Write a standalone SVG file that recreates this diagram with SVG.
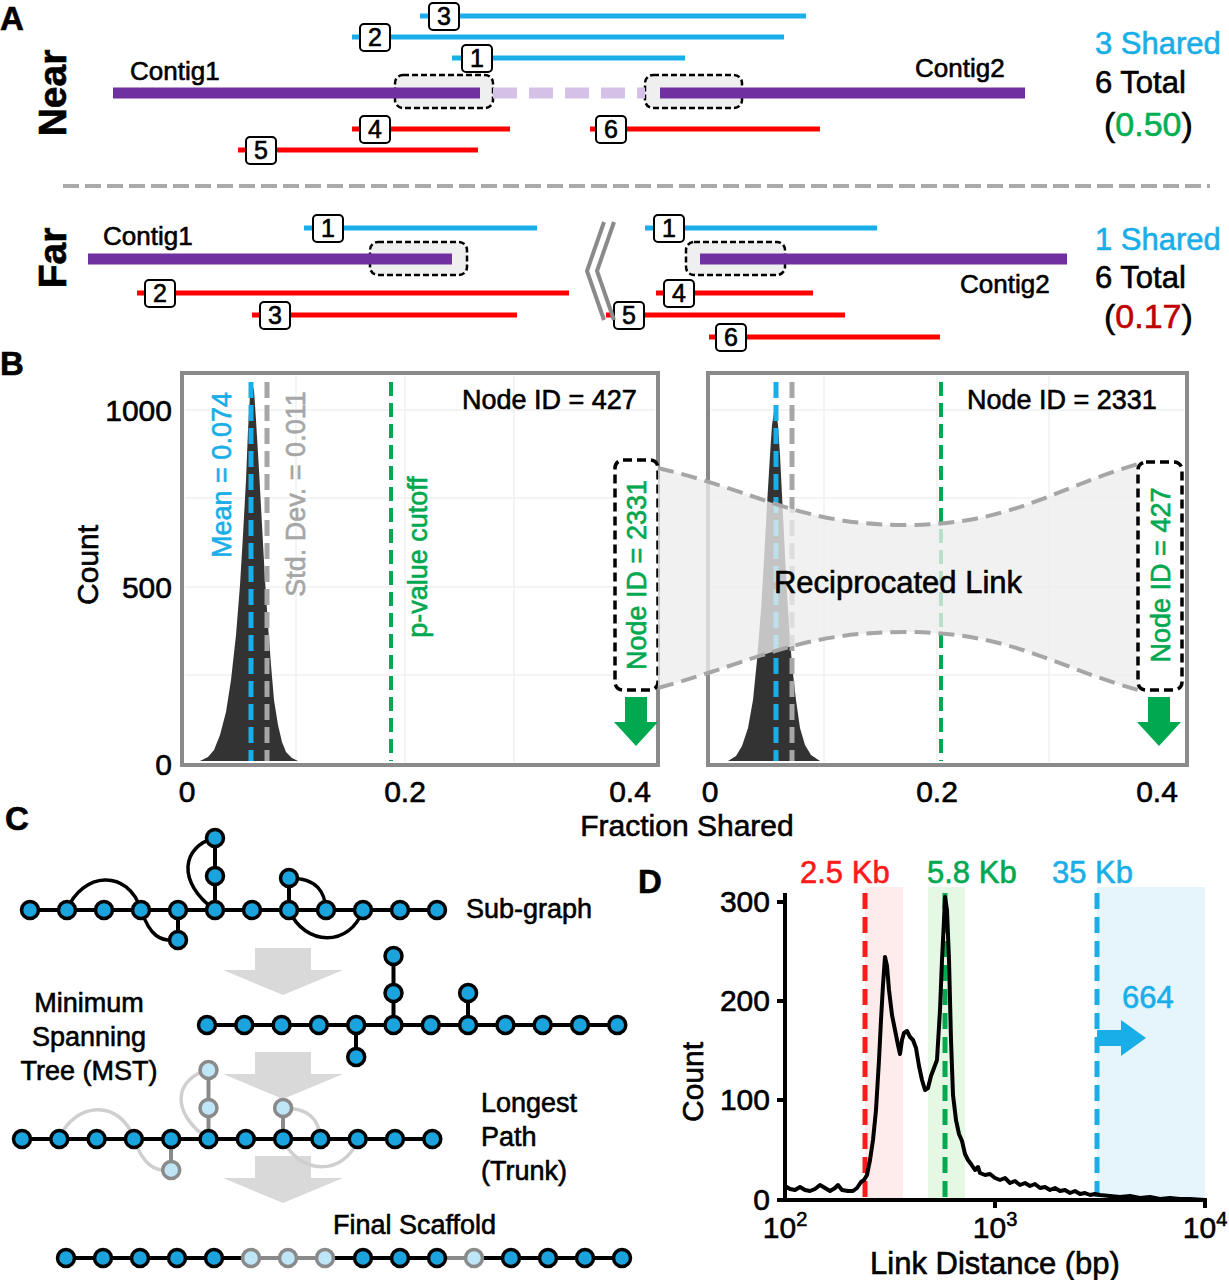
<svg xmlns="http://www.w3.org/2000/svg" width="1229" height="1280" viewBox="0 0 1229 1280">
<style>
text{font-family:"Liberation Sans",Arial,Helvetica,sans-serif;fill:#000;stroke:#000;stroke-width:0.6}
.lbl{font-weight:bold;font-size:33px}
.side{font-weight:bold;font-size:39px}
.ctg{font-size:26px}
.num{font-size:25px;text-anchor:middle}
.nbox{fill:#fff;stroke:#000;stroke-width:2}
.blue{stroke:#1aaee8;stroke-width:5}
.red{stroke:#ff0000;stroke-width:5}
.purple{stroke:#7030a0;stroke-width:11}
.hl{fill:#efefef;stroke:#000;stroke-width:2.5;stroke-dasharray:6 3}
.big{font-size:30px}
.frame{fill:#fff;stroke:#8a8a8a;stroke-width:4}
.grid{stroke:#f0f0f0;stroke-width:1.5}
.dmean{stroke:#1aaee8;stroke-width:5;stroke-dasharray:16 7}
.dsd{stroke:#a6a6a6;stroke-width:5;stroke-dasharray:16 7}
.dpv{stroke:#00a84f;stroke-width:4;stroke-dasharray:14 7}
.idbox{fill:#fff;stroke:#000;stroke-width:3.5;stroke-dasharray:9 5}
.garrow{fill:#00a84f}
.rot27{font-size:27px}
.cb{fill:#1aaee8;stroke:#1aaee8}
.cg{fill:#00a84f;stroke:#00a84f}
.cgl{fill:#00b050;stroke:#00b050}
.cgr{fill:#a6a6a6;stroke:#a6a6a6}
.cr{fill:#ff1a1a;stroke:#ff1a1a}
.cdr{fill:#c00000;stroke:#c00000}
.n{fill:#1aa3dc;stroke:#000;stroke-width:3.5}
.nl{fill:#bfe6f7;stroke:#8a8a8a;stroke-width:3.5}
.e{stroke:#000;stroke-width:4;fill:none}
.eg{stroke:#8a8a8a;stroke-width:4;fill:none}
.ec{stroke:#000;stroke-width:3.5;fill:none}
.ecg{stroke:#cfcfcf;stroke-width:3.5;fill:none}
.clab{font-size:27px}
.flow{fill:#d9d9d9}
.ax{stroke:#000;stroke-width:4;fill:none}
</style>
<defs>
<path id="flowArrow" d="M-28,0 H28 V22 H60 L0,47 L-60,22 H-28 Z"/>
<path id="gArrow" d="M-11,0 H11 V25 H22 L0,49 L-22,25 H-11 Z"/>
</defs>

<!-- Panel A -->
<g id="panelA">
<text class="lbl" x="0" y="30">A</text>
<text class="side" transform="translate(66,93) rotate(-90)" text-anchor="middle">Near</text>
<g id="near">
<rect class="hl" x="395" y="75" width="98" height="33" rx="8"/>
<rect class="hl" x="645" y="75" width="97" height="33" rx="8"/>
<line x1="113" y1="93" x2="480" y2="93" class="purple"/>
<line x1="493" y1="93" x2="645" y2="93" stroke="#d5c0e8" stroke-width="11" stroke-dasharray="24 12"/>
<line x1="660" y1="93" x2="1025" y2="93" class="purple"/>
<text class="ctg" x="130" y="80">Contig1</text>
<text class="ctg" x="915" y="77">Contig2</text>
<g id="nread3"><line x1="420" y1="16" x2="806" y2="16" class="blue"/><rect class="nbox" x="429" y="3" width="30" height="27" rx="4"/><text class="num" x="444" y="25">3</text></g>
<g id="nread2"><line x1="352" y1="37" x2="784" y2="37" class="blue"/><rect class="nbox" x="360" y="24" width="30" height="27" rx="4"/><text class="num" x="375" y="46">2</text></g>
<g id="nread1"><line x1="452" y1="58" x2="685" y2="58" class="blue"/><rect class="nbox" x="462" y="45" width="30" height="27" rx="4"/><text class="num" x="477" y="67">1</text></g>
<g id="nread4"><line x1="352" y1="129" x2="510" y2="129" class="red"/><rect class="nbox" x="360" y="116" width="30" height="27" rx="4"/><text class="num" x="375" y="138">4</text></g>
<g id="nread5"><line x1="238" y1="150" x2="478" y2="150" class="red"/><rect class="nbox" x="246" y="137" width="30" height="27" rx="4"/><text class="num" x="261" y="159">5</text></g>
<g id="nread6"><line x1="590" y1="129" x2="820" y2="129" class="red"/><rect class="nbox" x="596" y="116" width="30" height="27" rx="4"/><text class="num" x="611" y="138">6</text></g>
<text class="big cb" x="1095" y="54" style="font-size:31px">3 Shared</text>
<text class="big" x="1095" y="93" style="font-size:31px">6 Total</text>
<text class="big" x="1104" y="136" style="font-size:34px">(<tspan class="cgl">0.50</tspan>)</text>
</g>
<line x1="63" y1="186" x2="1210" y2="186" stroke="#aaaaaa" stroke-width="4" stroke-dasharray="16 6"/>
<text class="side" transform="translate(66,258) rotate(-90)" text-anchor="middle">Far</text>
<g id="far">
<rect class="hl" x="370" y="242" width="97" height="33" rx="8"/>
<rect class="hl" x="686" y="242" width="99" height="33" rx="8"/>
<line x1="88" y1="259" x2="452" y2="259" class="purple"/>
<line x1="700" y1="259" x2="1067" y2="259" class="purple"/>
<text class="ctg" x="103" y="245">Contig1</text>
<text class="ctg" x="960" y="293">Contig2</text>
<g id="fread1a"><line x1="304" y1="228" x2="537" y2="228" class="blue"/><rect class="nbox" x="313" y="215" width="30" height="27" rx="4"/><text class="num" x="328" y="237">1</text></g>
<g id="fread2"><line x1="137" y1="293" x2="569" y2="293" class="red"/><rect class="nbox" x="145" y="280" width="30" height="27" rx="4"/><text class="num" x="160" y="302">2</text></g>
<g id="fread3"><line x1="252" y1="315" x2="517" y2="315" class="red"/><rect class="nbox" x="260" y="302" width="30" height="27" rx="4"/><text class="num" x="275" y="324">3</text></g>
<g id="fread1b"><line x1="645" y1="228" x2="877" y2="228" class="blue"/><rect class="nbox" x="654" y="215" width="30" height="27" rx="4"/><text class="num" x="669" y="237">1</text></g>
<g id="fread4"><line x1="656" y1="293" x2="813" y2="293" class="red"/><rect class="nbox" x="664" y="280" width="30" height="27" rx="4"/><text class="num" x="679" y="302">4</text></g>
<g id="fread5"><line x1="606" y1="315" x2="845" y2="315" class="red"/><rect class="nbox" x="614" y="302" width="30" height="27" rx="4"/><text class="num" x="629" y="324">5</text></g>
<g id="fread6"><line x1="709" y1="337" x2="940" y2="337" class="red"/><rect class="nbox" x="716" y="324" width="30" height="27" rx="4"/><text class="num" x="731" y="346">6</text></g>
<polyline points="604,222 587,271 604,320" fill="none" stroke="#8a8a8a" stroke-width="4"/>
<polyline points="614,222 597,271 614,320" fill="none" stroke="#8a8a8a" stroke-width="4"/>
<text class="big cb" x="1095" y="250" style="font-size:31px">1 Shared</text>
<text class="big" x="1095" y="288" style="font-size:31px">6 Total</text>
<text class="big" x="1104" y="328" style="font-size:34px">(<tspan class="cdr">0.17</tspan>)</text>
</g>
</g>

<!-- Panel B -->
<g id="panelB">
<text class="lbl" x="0" y="375">B</text>
<text class="big" transform="translate(98,565) rotate(-90)" text-anchor="middle">Count</text>
<text class="big" x="172" y="421" text-anchor="end">1000</text>
<text class="big" x="172" y="598" text-anchor="end">500</text>
<text class="big" x="172" y="775" text-anchor="end">0</text>
<g id="plotLeft">
<rect class="frame" x="182" y="373" width="476" height="392"/>
<line class="grid" x1="296" y1="376" x2="296" y2="762"/><line class="grid" x1="405" y1="376" x2="405" y2="762"/><line class="grid" x1="514" y1="376" x2="514" y2="762"/>
<line class="grid" x1="185" y1="498" x2="655" y2="498"/><line class="grid" x1="185" y1="587" x2="655" y2="587"/><line class="grid" x1="185" y1="675" x2="655" y2="675"/><line class="grid" x1="185" y1="410" x2="655" y2="410"/>
<polygon fill="#333" points="200,761 208,757 214,750 220,735 226,712 231,680 236,635 240,585 243,535 246,480 248,430 250,395 252,384 254,390 256,420 259,470 262,525 265,580 268,625 271,665 274,700 278,725 282,742 286,752 292,758 298,761"/>
<line class="dmean" x1="251" y1="382" x2="251" y2="761"/>
<line class="dsd" x1="267" y1="382" x2="267" y2="761"/>
<line class="dpv" x1="391" y1="382" x2="391" y2="761"/>
<text class="rot27 cb" transform="translate(231,475) rotate(-90)" text-anchor="middle">Mean = 0.074</text>
<text class="rot27 cgr" transform="translate(305,494) rotate(-90)" text-anchor="middle">Std. Dev. = 0.011</text>
<text class="rot27 cg" transform="translate(427,557) rotate(-90)" text-anchor="middle">p-value cutoff</text>
<text class="rot27" x="462" y="409">Node ID = 427</text>
<g id="boxLeft"><rect class="idbox" x="615" y="460" width="43" height="230" rx="8"/>
<text class="rot27 cg" transform="translate(646,575) rotate(-90)" text-anchor="middle">Node ID = 2331</text></g>
<use href="#gArrow" x="636" y="697" class="garrow"/>
</g>
<g id="plotRight">
<rect class="frame" x="708" y="373" width="479" height="392"/>
<line class="grid" x1="824" y1="376" x2="824" y2="762"/><line class="grid" x1="937" y1="376" x2="937" y2="762"/><line class="grid" x1="1049" y1="376" x2="1049" y2="762"/>
<line class="grid" x1="711" y1="498" x2="1184" y2="498"/><line class="grid" x1="711" y1="587" x2="1184" y2="587"/><line class="grid" x1="711" y1="675" x2="1184" y2="675"/><line class="grid" x1="711" y1="410" x2="1184" y2="410"/>
<polygon fill="#333" points="728,761 736,756 742,746 748,728 753,700 757,660 761,610 764,560 767,505 770,455 772,425 774,412 776,410 778,425 780,455 783,515 786,575 789,625 792,665 796,700 800,728 805,745 811,755 820,761"/>
<line class="dmean" x1="776" y1="382" x2="776" y2="761"/>
<line class="dsd" x1="792" y1="382" x2="792" y2="761"/>
<line class="dpv" x1="941" y1="382" x2="941" y2="761"/>
<text class="rot27" x="967" y="409">Node ID = 2331</text>
</g>
<g id="link">
<path d="M658,468 C760,492 800,525 905,525 C1010,525 1050,490 1138,464 L1138,690 C1050,665 1010,632 905,632 C800,632 760,660 658,688 Z" fill="#ededed" fill-opacity="0.78"/>
<path d="M658,468 C760,492 800,525 905,525 C1010,525 1050,490 1138,464" fill="none" stroke="#a6a6a6" stroke-width="4" stroke-dasharray="16 8"/>
<path d="M658,688 C760,660 800,632 905,632 C1010,632 1050,665 1138,690" fill="none" stroke="#a6a6a6" stroke-width="4" stroke-dasharray="16 8"/>
<text x="898" y="593" text-anchor="middle" style="font-size:31px">Reciprocated Link</text>
</g>
<g id="boxRight"><rect class="idbox" x="1138" y="462" width="44" height="228" rx="8"/>
<text class="rot27 cg" transform="translate(1170,575) rotate(-90)" text-anchor="middle">Node ID = 427</text></g>
<use href="#gArrow" x="1159" y="697" class="garrow"/>
<text class="big" x="187" y="802" text-anchor="middle">0</text>
<text class="big" x="405" y="802" text-anchor="middle">0.2</text>
<text class="big" x="630" y="802" text-anchor="middle">0.4</text>
<text class="big" x="710" y="802" text-anchor="middle">0</text>
<text class="big" x="937" y="802" text-anchor="middle">0.2</text>
<text class="big" x="1157" y="802" text-anchor="middle">0.4</text>
<text class="big" x="687" y="836" text-anchor="middle">Fraction Shared</text>
</g>

<!-- Panel C -->
<g id="panelC">
<text class="lbl" x="5" y="830">C</text>
<use href="#flowArrow" x="283" y="948" class="flow"/>
<use href="#flowArrow" x="283" y="1052" class="flow"/>
<use href="#flowArrow" x="283" y="1156" class="flow"/>
<g id="connectors">
<path class="ec" d="M67,910 C82,872 128,868 141,910"/>
<path class="ec" d="M141,910 C150,936 160,942 178,940"/>
<path class="ec" d="M215,838 C182,846 176,882 215,910"/>
<path class="ec" d="M289,878 C318,878 325,893 326,910"/>
<path class="ec" d="M289,910 C305,947 350,947 363,910"/>
<line class="e" x1="30" y1="910" x2="437" y2="910"/>
<line class="e" x1="215" y1="838" x2="215" y2="910"/>
<line class="e" x1="178" y1="910" x2="178" y2="940"/>
<line class="e" x1="289" y1="878" x2="289" y2="910"/>
<line class="e" x1="207" y1="1025" x2="617" y2="1025"/>
<line class="e" x1="393.5" y1="956" x2="393.5" y2="1025"/>
<line class="e" x1="468" y1="993" x2="468" y2="1025"/>
<line class="e" x1="356" y1="1025" x2="356" y2="1057"/>
<path class="ecg" d="M59,1139 C74,1102 120,1098 134,1139"/>
<path class="ecg" d="M134,1139 C143,1165 155,1172 171,1170"/>
<path class="ecg" d="M208.5,1070 C175,1078 169,1112 208.5,1139"/>
<path class="ecg" d="M283,1108 C313,1108 320,1124 320,1139"/>
<path class="ecg" d="M283,1139 C299,1176 345,1176 358,1139"/>
<line class="eg" x1="208.5" y1="1070" x2="208.5" y2="1139"/>
<line class="eg" x1="283" y1="1108" x2="283" y2="1139"/>
<line class="eg" x1="171" y1="1139" x2="171" y2="1170"/>
<line class="e" x1="22" y1="1139" x2="432" y2="1139"/>
<line class="e" x1="66" y1="1258" x2="251" y2="1258"/>
<line class="eg" x1="251" y1="1258" x2="325" y2="1258"/>
<line class="e" x1="325" y1="1258" x2="437" y2="1258"/>
<line class="eg" x1="437" y1="1258" x2="473" y2="1258"/>
<line class="e" x1="473" y1="1258" x2="622" y2="1258"/>
</g>
<g id="subgraph">
<circle class="n" cx="30" cy="910" r="8.5"/><circle class="n" cx="67" cy="910" r="8.5"/><circle class="n" cx="104" cy="910" r="8.5"/><circle class="n" cx="141" cy="910" r="8.5"/><circle class="n" cx="178" cy="910" r="8.5"/><circle class="n" cx="215" cy="910" r="8.5"/><circle class="n" cx="252" cy="910" r="8.5"/><circle class="n" cx="289" cy="910" r="8.5"/><circle class="n" cx="326" cy="910" r="8.5"/><circle class="n" cx="363" cy="910" r="8.5"/><circle class="n" cx="400" cy="910" r="8.5"/><circle class="n" cx="437" cy="910" r="8.5"/>
<circle class="n" cx="215" cy="876" r="8.5"/><circle class="n" cx="215" cy="838" r="8.5"/><circle class="n" cx="178" cy="940" r="8.5"/><circle class="n" cx="289" cy="878" r="8.5"/>
</g>
<text class="clab" x="466" y="918">Sub-graph</text>
<g id="mst">
<circle class="n" cx="207" cy="1025" r="8.5"/><circle class="n" cx="244.3" cy="1025" r="8.5"/><circle class="n" cx="281.6" cy="1025" r="8.5"/><circle class="n" cx="318.9" cy="1025" r="8.5"/><circle class="n" cx="356.2" cy="1025" r="8.5"/><circle class="n" cx="393.5" cy="1025" r="8.5"/><circle class="n" cx="430.8" cy="1025" r="8.5"/><circle class="n" cx="468.1" cy="1025" r="8.5"/><circle class="n" cx="505.4" cy="1025" r="8.5"/><circle class="n" cx="542.7" cy="1025" r="8.5"/><circle class="n" cx="580" cy="1025" r="8.5"/><circle class="n" cx="617.3" cy="1025" r="8.5"/>
<circle class="n" cx="393.5" cy="993" r="8.5"/><circle class="n" cx="393.5" cy="956" r="8.5"/><circle class="n" cx="468.1" cy="993" r="8.5"/><circle class="n" cx="356.2" cy="1057" r="8.5"/>
</g>
<text class="clab" x="89" y="1012" text-anchor="middle">Minimum</text>
<text class="clab" x="89" y="1046" text-anchor="middle">Spanning</text>
<text class="clab" x="89" y="1080" text-anchor="middle">Tree (MST)</text>
<g id="trunk">
<circle class="n" cx="22" cy="1139" r="8.5"/><circle class="n" cx="59.3" cy="1139" r="8.5"/><circle class="n" cx="96.6" cy="1139" r="8.5"/><circle class="n" cx="133.9" cy="1139" r="8.5"/><circle class="n" cx="171.2" cy="1139" r="8.5"/><circle class="n" cx="208.5" cy="1139" r="8.5"/><circle class="n" cx="245.8" cy="1139" r="8.5"/><circle class="n" cx="283.1" cy="1139" r="8.5"/><circle class="n" cx="320.4" cy="1139" r="8.5"/><circle class="n" cx="357.7" cy="1139" r="8.5"/><circle class="n" cx="395" cy="1139" r="8.5"/><circle class="n" cx="432.3" cy="1139" r="8.5"/>
<circle class="nl" cx="208.5" cy="1108" r="8.5"/><circle class="nl" cx="208.5" cy="1070" r="8.5"/><circle class="nl" cx="283.1" cy="1108" r="8.5"/><circle class="nl" cx="171.2" cy="1170" r="8.5"/>
</g>
<text class="clab" x="481" y="1112">Longest</text>
<text class="clab" x="481" y="1146">Path</text>
<text class="clab" x="481" y="1180">(Trunk)</text>
<text class="clab" x="333" y="1234">Final Scaffold</text>
<g id="scaffold">
<circle class="n" cx="66" cy="1258" r="8.5"/><circle class="n" cx="103" cy="1258" r="8.5"/><circle class="n" cx="140" cy="1258" r="8.5"/><circle class="n" cx="177" cy="1258" r="8.5"/><circle class="n" cx="214" cy="1258" r="8.5"/><circle class="nl" cx="251" cy="1258" r="8.5"/><circle class="nl" cx="288" cy="1258" r="8.5"/><circle class="nl" cx="325" cy="1258" r="8.5"/><circle class="n" cx="363" cy="1258" r="8.5"/><circle class="n" cx="400" cy="1258" r="8.5"/><circle class="n" cx="437" cy="1258" r="8.5"/><circle class="nl" cx="474" cy="1258" r="8.5"/><circle class="n" cx="511" cy="1258" r="8.5"/><circle class="n" cx="548" cy="1258" r="8.5"/><circle class="n" cx="585" cy="1258" r="8.5"/><circle class="n" cx="622" cy="1258" r="8.5"/>
</g>
</g>

<!-- Panel D -->
<g id="panelD">
<text class="lbl" x="638" y="893">D</text>
<rect x="865" y="887" width="38" height="313" fill="#fdeceb"/>
<rect x="928" y="887" width="37" height="313" fill="#e4f8e4"/>
<rect x="1097" y="887" width="108" height="313" fill="#e6f5fc"/>
<line x1="865" y1="893" x2="865" y2="1200" stroke="#ff1a1a" stroke-width="5" stroke-dasharray="16 8"/>
<line x1="945" y1="893" x2="945" y2="1200" stroke="#00a84f" stroke-width="5" stroke-dasharray="16 8"/>
<line x1="1097" y1="893" x2="1097" y2="1200" stroke="#1aaee8" stroke-width="5" stroke-dasharray="16 8"/>
<polygon points="1097,1030 1121,1030 1121,1020 1146,1038 1121,1056 1121,1046 1097,1046" fill="#1aaee8"/>
<text class="cb" x="1122" y="1008" style="font-size:31px">664</text>
<polyline fill="none" stroke="#000" stroke-width="4" stroke-linejoin="round" points="785,1186 790,1189 795,1190 800,1187 805,1190 810,1191 815,1189 820,1185 825,1188 830,1191 835,1188 838,1185 842,1190 848,1191 853,1191 857,1188 861,1182 864,1180 867,1175 870,1160 873,1140 876,1110 879,1060 881,1020 883,985 885,957 887,966 889,990 892,1015 895,1030 898,1045 900,1054 902,1040 904,1033 907,1031 910,1037 913,1040 916,1048 919,1066 922,1080 925,1090 928,1088 931,1076 934,1068 937,1060 940,1010 942,960 944,920 945,897 947,910 949,960 951,1040 953,1095 956,1120 959,1134 962,1141 965,1154 968,1160 971,1164 975,1170 978,1167 980,1173 985,1175 990,1174 995,1178 1000,1180 1005,1178 1010,1183 1015,1181 1020,1185 1025,1183 1030,1186 1035,1184 1040,1188 1045,1187 1050,1190 1055,1188 1060,1191 1065,1190 1070,1193 1075,1191 1080,1194 1085,1193 1090,1195 1095,1194 1100,1195 1110,1196 1120,1197 1130,1196 1140,1198 1150,1197 1160,1199 1170,1198 1180,1199 1190,1199 1205,1200"/>
<line class="ax" x1="785" y1="893" x2="785" y2="1202"/>
<line class="ax" x1="783" y1="1200" x2="1207" y2="1200"/>
<g stroke="#000" stroke-width="4"><line x1="777" y1="902" x2="785" y2="902"/><line x1="777" y1="1001" x2="785" y2="1001"/><line x1="777" y1="1100" x2="785" y2="1100"/><line x1="777" y1="1200" x2="785" y2="1200"/><line x1="995" y1="1200" x2="995" y2="1208"/><line x1="1205" y1="1200" x2="1205" y2="1208"/></g>
<text class="big" x="770" y="912" text-anchor="end">300</text>
<text class="big" x="770" y="1011" text-anchor="end">200</text>
<text class="big" x="770" y="1110" text-anchor="end">100</text>
<text class="big" x="770" y="1210" text-anchor="end">0</text>
<text class="big" transform="translate(703,1082) rotate(-90)" text-anchor="middle">Count</text>
<text class="big" x="785" y="1238" text-anchor="middle">10<tspan dy="-12" style="font-size:20px">2</tspan></text>
<text class="big" x="995" y="1238" text-anchor="middle">10<tspan dy="-12" style="font-size:20px">3</tspan></text>
<text class="big" x="1205" y="1238" text-anchor="middle">10<tspan dy="-12" style="font-size:20px">4</tspan></text>
<text x="995" y="1274" text-anchor="middle" style="font-size:31px">Link Distance (bp)</text>
<text class="cr" x="800" y="883" style="font-size:31px">2.5 Kb</text>
<text class="cg" x="927" y="883" style="font-size:31px">5.8 Kb</text>
<text class="cb" x="1052" y="883" style="font-size:31px">35 Kb</text>
</g>
</svg>
